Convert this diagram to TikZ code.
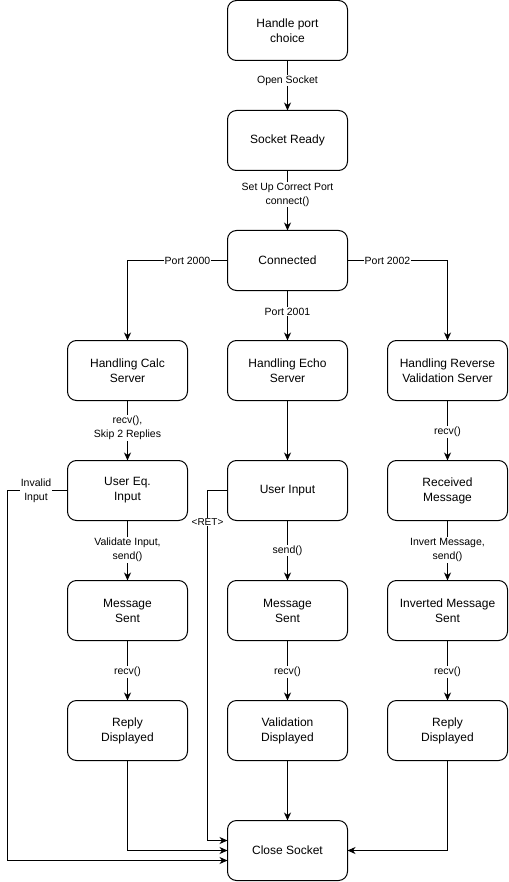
\documentclass[tikz,border=0pt]{standalone}
\usepackage{fontspec}
\setmainfont{Liberation Sans}
\usetikzlibrary{arrows.meta}
\begin{document}
\begin{tikzpicture}[x=1pt,y=-1pt,
  box/.style={draw, rounded corners=9pt, minimum width=120pt, minimum height=60pt,
    align=center, inner sep=2pt, outer sep=0pt, line width=1pt,
    font=\fontsize{12}{15}\selectfont},
  flow/.style={draw, line width=1pt, -{Stealth[length=8pt,width=7pt,inset=2.5pt]}},
  lbl/.style={fill=white, font=\fontsize{10.5}{14}\selectfont, inner sep=1pt, align=center}]
\useasboundingbox (0,0) rectangle (508,882);

% states
\node[box] (choice) at (287.5,30.5)  {Handle port\\choice};
\node[box] (ready)  at (287.5,140.5) {Socket Ready};
\node[box] (conn)   at (287.5,260.5) {Connected};
\node[box] (calc)   at (127.5,370.5) {Handling Calc\\Server};
\node[box] (echo)   at (287.5,370.5) {Handling Echo\\Server};
\node[box] (rev)    at (447.5,370.5) {Handling Reverse\\Validation Server};
\node[box] (eq)     at (127.5,490.5) {User Eq.\\Input};
\node[box] (uin)    at (287.5,490.5) {User Input};
\node[box] (recvd)  at (447.5,490.5) {Received\\Message};
\node[box] (sent1)  at (127.5,610.5) {Message\\Sent};
\node[box] (sent2)  at (287.5,610.5) {Message\\Sent};
\node[box] (sent3)  at (447.5,610.5) {Inverted Message\\Sent};
\node[box] (reply1) at (127.5,730.5) {Reply\\Displayed};
\node[box] (valid)  at (287.5,730.5) {Validation\\Displayed};
\node[box] (reply3) at (447.5,730.5) {Reply\\Displayed};
\node[box] (close)  at (287.5,850.5) {Close Socket};

% bends of the loops back to Close Socket
\coordinate (invL) at (7.5,490.5);
\coordinate (retL) at (207.5,840.5);

% main flow
\draw[flow] (choice) -- node[lbl, pos=0.4] {Open Socket} (ready);
\draw[flow] (ready) -- node[lbl, pos=0.4] {Set Up Correct Port\\connect()} (conn);
\draw[flow] (conn.west) -| node[lbl, pos=0.2] {Port 2000} (calc.north);
\draw[flow] (conn) -- node[lbl, pos=0.42] {Port 2001} (echo);
\draw[flow] (conn.east) -| node[lbl, pos=0.2] {Port 2002} (rev.north);

% calc column
\draw[flow] (calc) -- node[lbl, pos=0.46] {recv(),\\Skip 2 Replies} (eq);
\draw[flow] (eq) -- node[lbl, pos=0.49] {Validate Input,\\send()} (sent1);
\draw[flow] (sent1) -- node[lbl, pos=0.52] {recv()} (reply1);

% echo column
\draw[flow] (echo) -- (uin);
\draw[flow] (uin) -- node[lbl, pos=0.5] {send()} (sent2);
\draw[flow] (sent2) -- node[lbl, pos=0.52] {recv()} (valid);

% reverse column
\draw[flow] (rev) -- node[lbl, pos=0.52] {recv()} (recvd);
\draw[flow] (recvd) -- node[lbl, pos=0.49] {Invert Message,\\send()} (sent3);
\draw[flow] (sent3) -- node[lbl, pos=0.52] {recv()} (reply3);

% into Close Socket
\draw[flow] (valid) -- (close);
\draw[flow] (reply1) |- (close.west);
\draw[flow] (reply3) |- (close.east);
\draw[flow] (eq.west) -- node[lbl, pos=0.525] {Invalid\\Input} (invL)
  |- ([yshift=-10pt]close.west);
\draw[flow] (uin.west) -| node[lbl, pos=0.545, font=\fontsize{10}{12}\selectfont] {<RET>} (retL)
  -- ([yshift=10pt]close.west);
\end{tikzpicture}
\end{document}
